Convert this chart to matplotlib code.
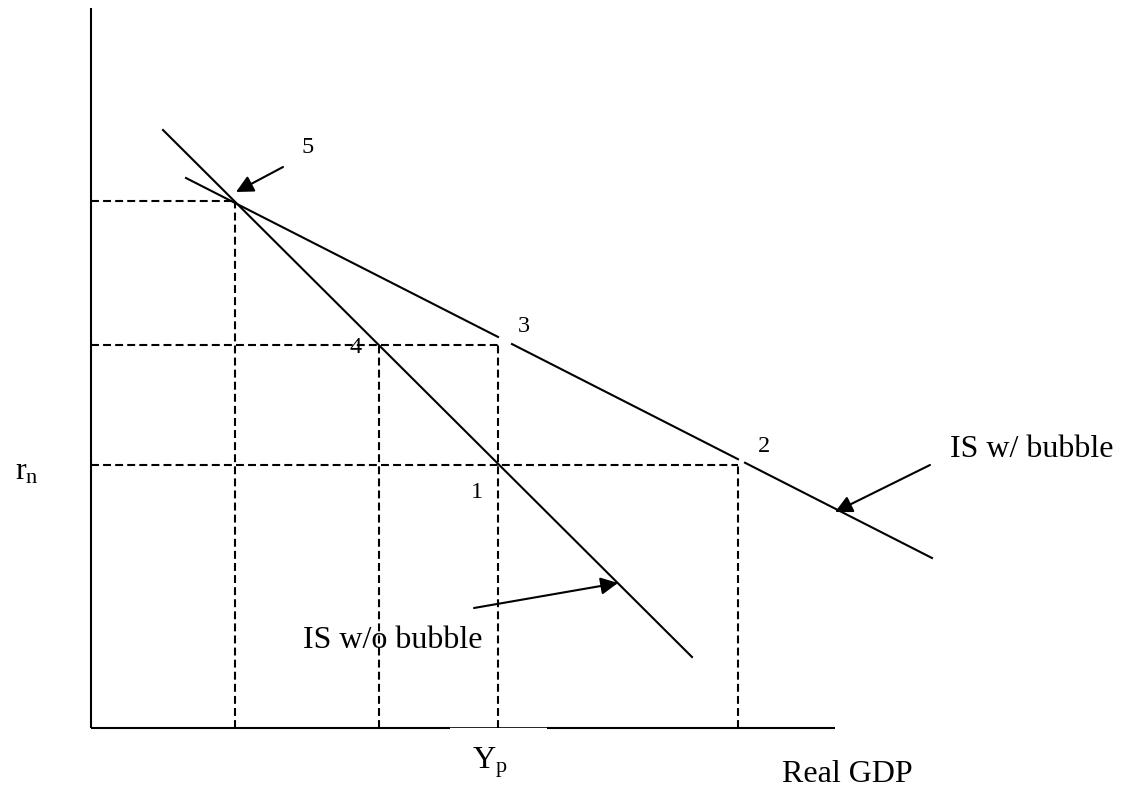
import matplotlib
matplotlib.use("Agg")
import matplotlib.pyplot as plt

plt.rcParams['font.family'] = ['Liberation Serif', 'DejaVu Serif']

# diagram units: GDP to the right, rate upwards, origin at the axes corner
y_axis_top = 720
x_axis_right = 744
axis_gap = (359, 456)          # thin part of the GDP axis under Yp

# IS without bubble (steep)
is_plain_x = [72, 601]
is_plain_y = [598, 71]

# IS with bubble (flatter), drawn with two small breaks
is_bub_x = [95, 841]
is_bub_y = [550, 170]
is_bub_gaps = [(407, 421), (647, 654)]

# dashed guides
h_levels = [527, 383, 263]
h_ends = [144, 407, 647]
v_pos = [144, 288, 407, 647]
v_tops = [527, 383, 383, 263]

# numbered points
num_labels = ['5', '4', '3', '1', '2']
num_x = [217, 265, 433, 386, 673]
num_y = [575, 375, 396, 230, 276]

# arrows (tail -> head)
arrows = [((192, 561), (145, 536)),
          ((839, 263), (744, 216)),
          ((383, 120), (527, 145))]


def bub_y(x):
    slope = (is_bub_y[1] - is_bub_y[0]) / (is_bub_x[1] - is_bub_x[0])
    return is_bub_y[0] + (x - is_bub_x[0]) * slope


fig = plt.figure(figsize=(11.34, 7.90), dpi=100)
ax = fig.add_axes([0, 0, 1, 1])
ax.set_xlim(-91, 1043)
ax.set_ylim(-62, 728)
ax.axis('off')

lw = 1.5
dash = (0, (3.8, 2.0))

# axes
ax.plot([0, 0], [0, y_axis_top], color='black', lw=lw, solid_capstyle='butt')
ax.plot([0, axis_gap[0]], [0, 0], color='black', lw=lw, solid_capstyle='butt')
ax.plot([axis_gap[1], x_axis_right], [0, 0], color='black', lw=lw, solid_capstyle='butt')
ax.plot(list(axis_gap), [0.8, 0.8], color='black', lw=0.6)

# guides
for lev, end in zip(h_levels, h_ends):
    ax.plot([0, end], [lev, lev], color='black', lw=lw, ls=dash)
for xp, top in zip(v_pos, v_tops):
    ax.plot([xp, xp], [0, top], color='black', lw=lw, ls=dash)

# IS curves
ax.plot(is_plain_x, is_plain_y, color='black', lw=lw)
starts = [is_bub_x[0]] + [g[1] for g in is_bub_gaps]
ends = [g[0] for g in is_bub_gaps] + [is_bub_x[1]]
for s, e in zip(starts, ends):
    ax.plot([s, e], [bub_y(s), bub_y(e)], color='black', lw=lw)

for lab, x, y in zip(num_labels, num_x, num_y):
    ax.text(x, y, lab, fontsize=17.5, ha='center', va='baseline')

for tail, head in arrows:
    ax.annotate('', xy=head, xytext=tail,
                arrowprops=dict(arrowstyle='-|>', color='black', lw=lw,
                                mutation_scale=26, shrinkA=0, shrinkB=0))

ax.text(859, 271, 'IS w/ bubble', fontsize=23, ha='left', va='baseline')
ax.text(212, 80, 'IS w/o bubble', fontsize=23, ha='left', va='baseline')
ax.text(691, -54, 'Real GDP', fontsize=23, ha='left', va='baseline')
ax.text(381, -40, r'$\mathregular{Y_p}$', fontsize=23, ha='left', va='baseline')
ax.text(-76, 248, r'$\mathregular{r_n}$', fontsize=23, ha='left', va='baseline')

fig.savefig('out.png', dpi=100)
